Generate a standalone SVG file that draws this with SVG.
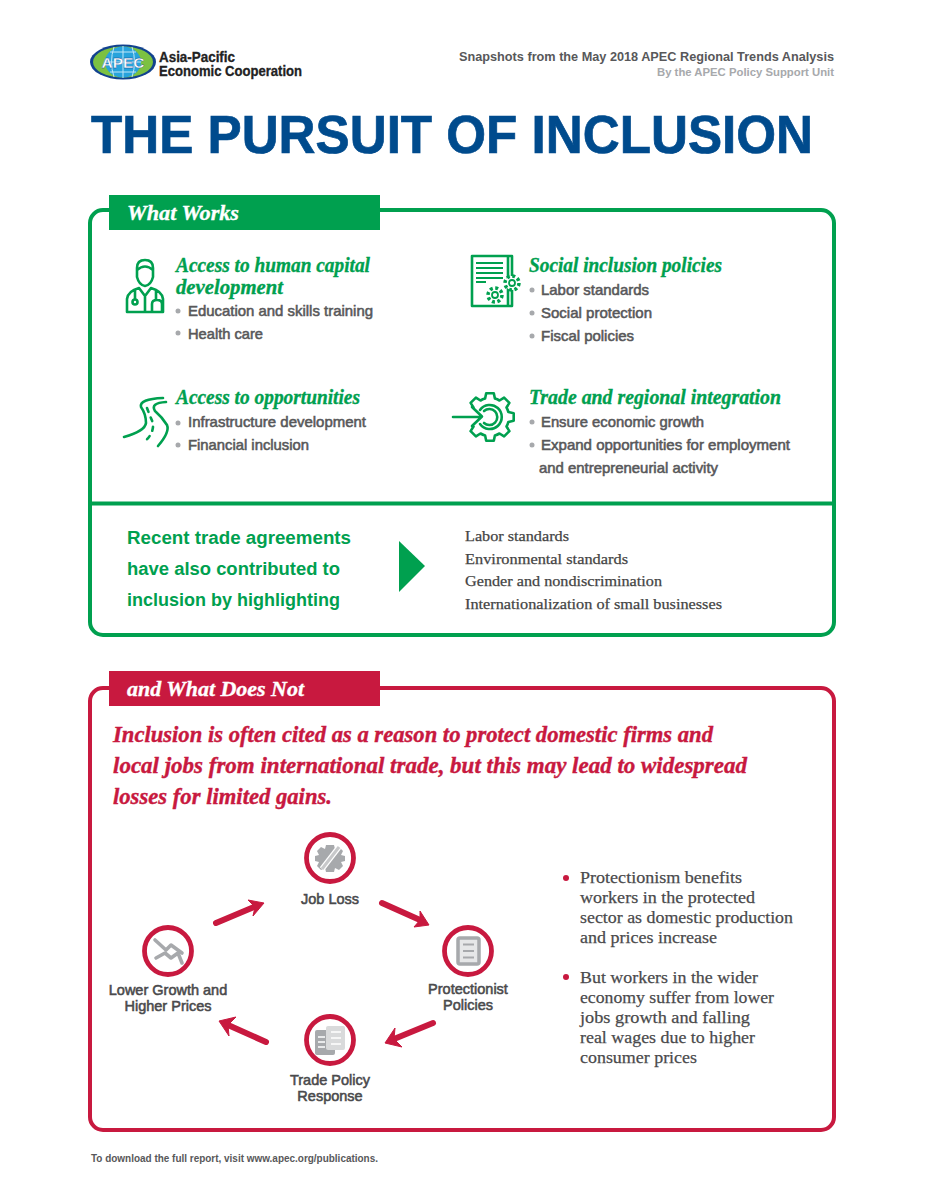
<svg xmlns="http://www.w3.org/2000/svg" width="925" height="1197" viewBox="0 0 925 1197">
<style>
text{font-family:"Liberation Sans",Arial,sans-serif}
.h{font-family:"Liberation Serif",serif;font-weight:700;font-style:italic;font-size:20.5px;fill:#00a04f;stroke:#00a04f;stroke-width:.35}
.r{font-family:"Liberation Serif",serif;font-weight:700;font-style:italic;font-size:24px;fill:#c8193f;stroke:#c8193f;stroke-width:.4}
.tab{font-family:"Liberation Serif",serif;font-weight:700;font-style:italic;font-size:21.5px;fill:#fff;stroke:#fff;stroke-width:.35}
.b{font-size:14.5px;fill:#58585a;stroke:#58585a;stroke-width:.55}
.g{font-size:18.8px;font-weight:700;fill:#00a04f}
.s{font-family:"Liberation Serif",serif;font-size:15.5px;fill:#444;stroke:#444;stroke-width:.25}
.p{font-family:"Liberation Serif",serif;font-size:17.5px;fill:#4a4a4c;stroke:#4a4a4c;stroke-width:.25}
.l{font-size:14.5px;fill:#4a4a4c;stroke:#4a4a4c;stroke-width:.55;text-anchor:middle}
.gi{fill:none;stroke:#00a04f;stroke-width:2.6;stroke-linecap:round;stroke-linejoin:round}
.ring{fill:#fff;stroke:#c8193f;stroke-width:4.8}
.gr{fill:#a7a9ac}
.grl{fill:none;stroke:#a7a9ac;stroke-width:3.6;stroke-linecap:round;stroke-linejoin:round}
.dot{fill:#a7a9ac}
.rd{fill:#c8193f}
.arr{fill:none;stroke:#c8193f;stroke-width:6;stroke-linecap:round}
.ah{fill:#c8193f;stroke:#c8193f;stroke-width:1;stroke-linejoin:round}
</style>

<g id="logo">
<ellipse cx="123" cy="62" rx="33" ry="17.5" fill="#12428f"/>
<ellipse cx="123" cy="62" rx="30" ry="15.5" fill="#7cc142"/>
<ellipse cx="123" cy="62" rx="18" ry="15.5" fill="#27a3dc"/>
<path d="M105 62H141M110 52H136M110 72H136M123 46V78M114 47Q109 62 114 77M132 47Q137 62 132 77" fill="none" stroke="#bfe6f7" stroke-width="1"/>
<text x="123" y="68" text-anchor="middle" font-size="15.500" font-weight="700" fill="#fff" stroke="#12428f" stroke-width=".3">APEC</text>
<text x="159" y="62" font-size="14" font-weight="700" fill="#222" stroke="#222" stroke-width=".3" textLength="76" lengthAdjust="spacingAndGlyphs">Asia-Pacific</text>
<text x="159" y="76" font-size="14" font-weight="700" fill="#222" stroke="#222" stroke-width=".3" textLength="143" lengthAdjust="spacingAndGlyphs">Economic Cooperation</text>
</g>
<g id="header">
<text x="459" y="61" font-size="12.500" font-weight="700" fill="#58585a" textLength="375" lengthAdjust="spacingAndGlyphs">Snapshots from the May 2018 APEC Regional Trends Analysis</text>
<text x="657" y="76" font-size="11" font-weight="700" fill="#a7a9ac" textLength="177" lengthAdjust="spacingAndGlyphs">By the APEC Policy Support Unit</text>
<text x="91" y="153" font-size="53" font-weight="700" fill="#004b8d" stroke="#004b8d" stroke-width=".7" textLength="722" lengthAdjust="spacingAndGlyphs">THE PURSUIT OF INCLUSION</text>
</g>

<g id="what-works">
<rect x="90" y="210" width="744" height="425" rx="13" fill="#fff" stroke="#00a04f" stroke-width="4"/>
<path d="M90 503.500H834" stroke="#00a04f" stroke-width="4"/>
<rect x="109" y="195" width="271" height="35" fill="#00a04f"/>
<text class="tab" x="127" y="220" textLength="112" lengthAdjust="spacingAndGlyphs">What Works</text>
</g>

<g id="human-capital">
<path class="gi" d="M137 268Q137 260 145 260Q153 260 153 268V277Q151 285 145 286Q139 285 137 277ZM137 270Q145 263 153 270M127 312V299Q128 291 139 288M163 312V299Q162 291 151 288M127 312H163M139 288L145 296L151 288M145 296V312M135 290V299M156 290V299M152 312V304Q152 300 157 300Q162 300 162 304V312"/>
<circle class="gi" cx="135" cy="302" r="2.500"/>
<text class="h" x="176" y="272" textLength="194" lengthAdjust="spacingAndGlyphs">Access to human capital</text>
<text class="h" x="176" y="294" textLength="107" lengthAdjust="spacingAndGlyphs">development</text>
<circle class="dot" cx="178" cy="311" r="2.500"/><text class="b" x="188" y="316" textLength="185" lengthAdjust="spacingAndGlyphs">Education and skills training</text>
<circle class="dot" cx="178" cy="333" r="2.500"/><text class="b" x="188" y="339" textLength="75" lengthAdjust="spacingAndGlyphs">Health care</text>
</g>

<g id="opportunities">
<path class="gi" d="M124 437Q145 431 146 423Q146 414 141 407Q139 399 163 398M158 446Q170 432 167 425Q162 417 155 411Q150 403 166 402"/>
<path class="gi" stroke-dasharray="4 6" d="M147 408Q150 416 153 423Q154 434 144 442"/>
<text class="h" x="176" y="404" textLength="184" lengthAdjust="spacingAndGlyphs">Access to opportunities</text>
<circle class="dot" cx="178" cy="423" r="2.500"/><text class="b" x="188" y="427" textLength="178" lengthAdjust="spacingAndGlyphs">Infrastructure development</text>
<circle class="dot" cx="178" cy="445" r="2.500"/><text class="b" x="188" y="450" textLength="121" lengthAdjust="spacingAndGlyphs">Financial inclusion</text>
</g>

<g id="social">
<path class="gi" d="M472 256H512V306H472Z M508 256V306"/>
<path d="M476 263H503M476 268H503M476 273H503M476 278H503M476 282H486" fill="none" stroke="#00a04f" stroke-width="2.200"/>
<g fill="#fff" stroke="#00a04f">
<circle cx="512" cy="283" r="7" stroke-width="3.500" stroke-dasharray="3 2.500"/><circle cx="512" cy="283" r="3" stroke-width="1.800"/>
<circle cx="495" cy="295" r="7" stroke-width="3.500" stroke-dasharray="3 2.500"/><circle cx="495" cy="295" r="3" stroke-width="1.800"/>
</g>
<text class="h" x="529" y="272" textLength="193" lengthAdjust="spacingAndGlyphs">Social inclusion policies</text>
<circle class="dot" cx="532" cy="290" r="2.500"/><text class="b" x="541" y="295" textLength="108" lengthAdjust="spacingAndGlyphs">Labor standards</text>
<circle class="dot" cx="532" cy="313" r="2.500"/><text class="b" x="541" y="318" textLength="111" lengthAdjust="spacingAndGlyphs">Social protection</text>
<circle class="dot" cx="532" cy="336" r="2.500"/><text class="b" x="541" y="341" textLength="93" lengthAdjust="spacingAndGlyphs">Fiscal policies</text>
</g>

<g id="trade">
<path class="gi" d="M453 417H481M472 407L482 416.500L472 426"/>
<path class="gi" transform="translate(490 417)" d="M-16.500 -9.500L-19.400 -14.100L-14.100 -19.400L-9.500 -16.500A19 19 0 0 1 -4.900 -18.400L-3.800 -23.700L3.800 -23.700L4.900 -18.400A19 19 0 0 1 9.500 -16.500L14.100 -19.400L19.400 -14.100L16.500 -9.500A19 19 0 0 1 18.400 -4.900L23.700 -3.800L23.700 3.800L18.400 4.900A19 19 0 0 1 16.500 9.500L19.400 14.100L14.100 19.400L9.500 16.500A19 19 0 0 1 4.900 18.400L3.800 23.700L-3.800 23.700L-4.900 18.400A19 19 0 0 1 -9.500 16.500L-14.100 19.400L-19.400 14.100L-16.500 9.500"/>
<path class="gi" d="M480 410A12 12 0 1 1 480 424M484 411A8 8 0 1 1 484 423" stroke-width="2"/>
<text class="h" x="529" y="404" textLength="252" lengthAdjust="spacingAndGlyphs">Trade and regional integration</text>
<circle class="dot" cx="532" cy="422" r="2.500"/><text class="b" x="541" y="427" textLength="163" lengthAdjust="spacingAndGlyphs">Ensure economic growth</text>
<circle class="dot" cx="532" cy="445" r="2.500"/><text class="b" x="541" y="450" textLength="249" lengthAdjust="spacingAndGlyphs">Expand opportunities for employment</text>
<text class="b" x="539" y="473" textLength="179" lengthAdjust="spacingAndGlyphs">and entrepreneurial activity</text>
</g>

<g id="agreements">
<text class="g" x="127" y="544" textLength="224" lengthAdjust="spacingAndGlyphs">Recent trade agreements</text>
<text class="g" x="127" y="575" textLength="213" lengthAdjust="spacingAndGlyphs">have also contributed to</text>
<text class="g" x="127" y="606" textLength="213" lengthAdjust="spacingAndGlyphs">inclusion by highlighting</text>
<polygon points="399,541 425,566 399,592" fill="#00a04f"/>
<text class="s" x="465" y="541" textLength="104" lengthAdjust="spacingAndGlyphs">Labor standards</text>
<text class="s" x="465" y="564" textLength="163" lengthAdjust="spacingAndGlyphs">Environmental standards</text>
<text class="s" x="465" y="586" textLength="197" lengthAdjust="spacingAndGlyphs">Gender and nondiscrimination</text>
<text class="s" x="465" y="609" textLength="257" lengthAdjust="spacingAndGlyphs">Internationalization of small businesses</text>
</g>

<g id="what-does-not">
<rect x="90" y="688" width="744" height="442" rx="13" fill="#fff" stroke="#c8193f" stroke-width="4"/>
<rect x="109" y="671" width="271" height="35" fill="#c8193f"/>
<text class="tab" x="127" y="696" textLength="177" lengthAdjust="spacingAndGlyphs">and What Does Not</text>
<text class="r" x="113" y="742" textLength="600" lengthAdjust="spacingAndGlyphs">Inclusion is often cited as a reason to protect domestic firms and</text>
<text class="r" x="113" y="773" textLength="634" lengthAdjust="spacingAndGlyphs">local jobs from international trade, but this may lead to widespread</text>
<text class="r" x="113" y="804" textLength="219" lengthAdjust="spacingAndGlyphs">losses for limited gains.</text>
</g>

<g id="connectors">
<path class="arr" d="M216 923L254 907"/><path class="ah" d="M248 900L264 903L253 916L255 907Z"/>
<path class="arr" d="M382 903L420 920"/><path class="ah" d="M420 911L429 925L414 927L420 920Z"/>
<path class="arr" d="M433 1023L394 1039"/><path class="ah" d="M395 1028L385 1043L402 1047L394 1039Z"/>
<path class="arr" d="M266 1042L228 1025"/><path class="ah" d="M236 1017L219 1021L229 1036L228 1025Z"/>
</g>

<g id="job-loss">
<circle class="ring" cx="330" cy="858" r="23.500"/>
<path class="gr" d="M326 845H334L335 849L339 847L343 851L341 855L345 856V861L341 862L343 866L339 870L335 868L334 872H326L325 868L321 870L317 866L319 862L315 861V856L319 855L317 851L321 847L325 849Z"/>
<path d="M322 869L339 847" stroke="#fff" stroke-width="5.500"/>
<path d="M322 869L339 847" stroke="#c7c8ca" stroke-width="3"/>
<text class="l" x="330" y="904">Job Loss</text>
</g>
<g id="protectionist">
<circle class="ring" cx="468" cy="951" r="23.500"/>
<rect x="458" y="938" width="21" height="26" rx="2" fill="#e6e7e8" stroke="#a7a9ac" stroke-width="3.500"/>
<path d="M463 944.500H474M463 951H474M463 957.500H474" stroke="#a7a9ac" stroke-width="2.200"/>
<text class="l" x="468" y="994">Protectionist</text>
<text class="l" x="468" y="1010">Policies</text>
</g>
<g id="trade-policy">
<circle class="ring" cx="330" cy="1040" r="23.500"/>
<rect x="315" y="1030" width="20" height="25" rx="2" fill="#a7a9ac"/>
<rect x="326" y="1026" width="19" height="24" rx="2" fill="#d9dadb"/>
<path d="M318 1037H325M318 1042H325M318 1047H325M331 1032H341M331 1038H341M331 1044H341" stroke="#fff" stroke-width="1.500"/>
<text class="l" x="330" y="1085">Trade Policy</text>
<text class="l" x="330" y="1101">Response</text>
</g>
<g id="lower-growth">
<circle class="ring" cx="168" cy="951" r="23.500"/>
<path class="grl" d="M155 940L166 950L171 945L182 953"/>
<path class="grl" d="M156 958L165 953L171 958L178 953L182 963"/>
<text class="l" x="168" y="995">Lower Growth and</text>
<text class="l" x="168" y="1011">Higher Prices</text>
</g>

<g id="notes">
<circle class="rd" cx="566" cy="878" r="3"/>
<text class="p" x="580" y="883" textLength="162" lengthAdjust="spacingAndGlyphs">Protectionism benefits</text>
<text class="p" x="580" y="903" textLength="175" lengthAdjust="spacingAndGlyphs">workers in the protected</text>
<text class="p" x="580" y="923" textLength="213" lengthAdjust="spacingAndGlyphs">sector as domestic production</text>
<text class="p" x="580" y="943" textLength="137" lengthAdjust="spacingAndGlyphs">and prices increase</text>
<circle class="rd" cx="566" cy="977" r="3"/>
<text class="p" x="580" y="983" textLength="178" lengthAdjust="spacingAndGlyphs">But workers in the wider</text>
<text class="p" x="580" y="1003" textLength="194" lengthAdjust="spacingAndGlyphs">economy suffer from lower</text>
<text class="p" x="580" y="1023" textLength="170" lengthAdjust="spacingAndGlyphs">jobs growth and falling</text>
<text class="p" x="580" y="1043" textLength="175" lengthAdjust="spacingAndGlyphs">real wages due to higher</text>
<text class="p" x="580" y="1063" textLength="117" lengthAdjust="spacingAndGlyphs">consumer prices</text>
</g>
<text id="footer" x="91" y="1162" font-size="10" font-weight="700" fill="#58585a" textLength="287" lengthAdjust="spacingAndGlyphs">To download the full report, visit www.apec.org/publications.</text>
</svg>
